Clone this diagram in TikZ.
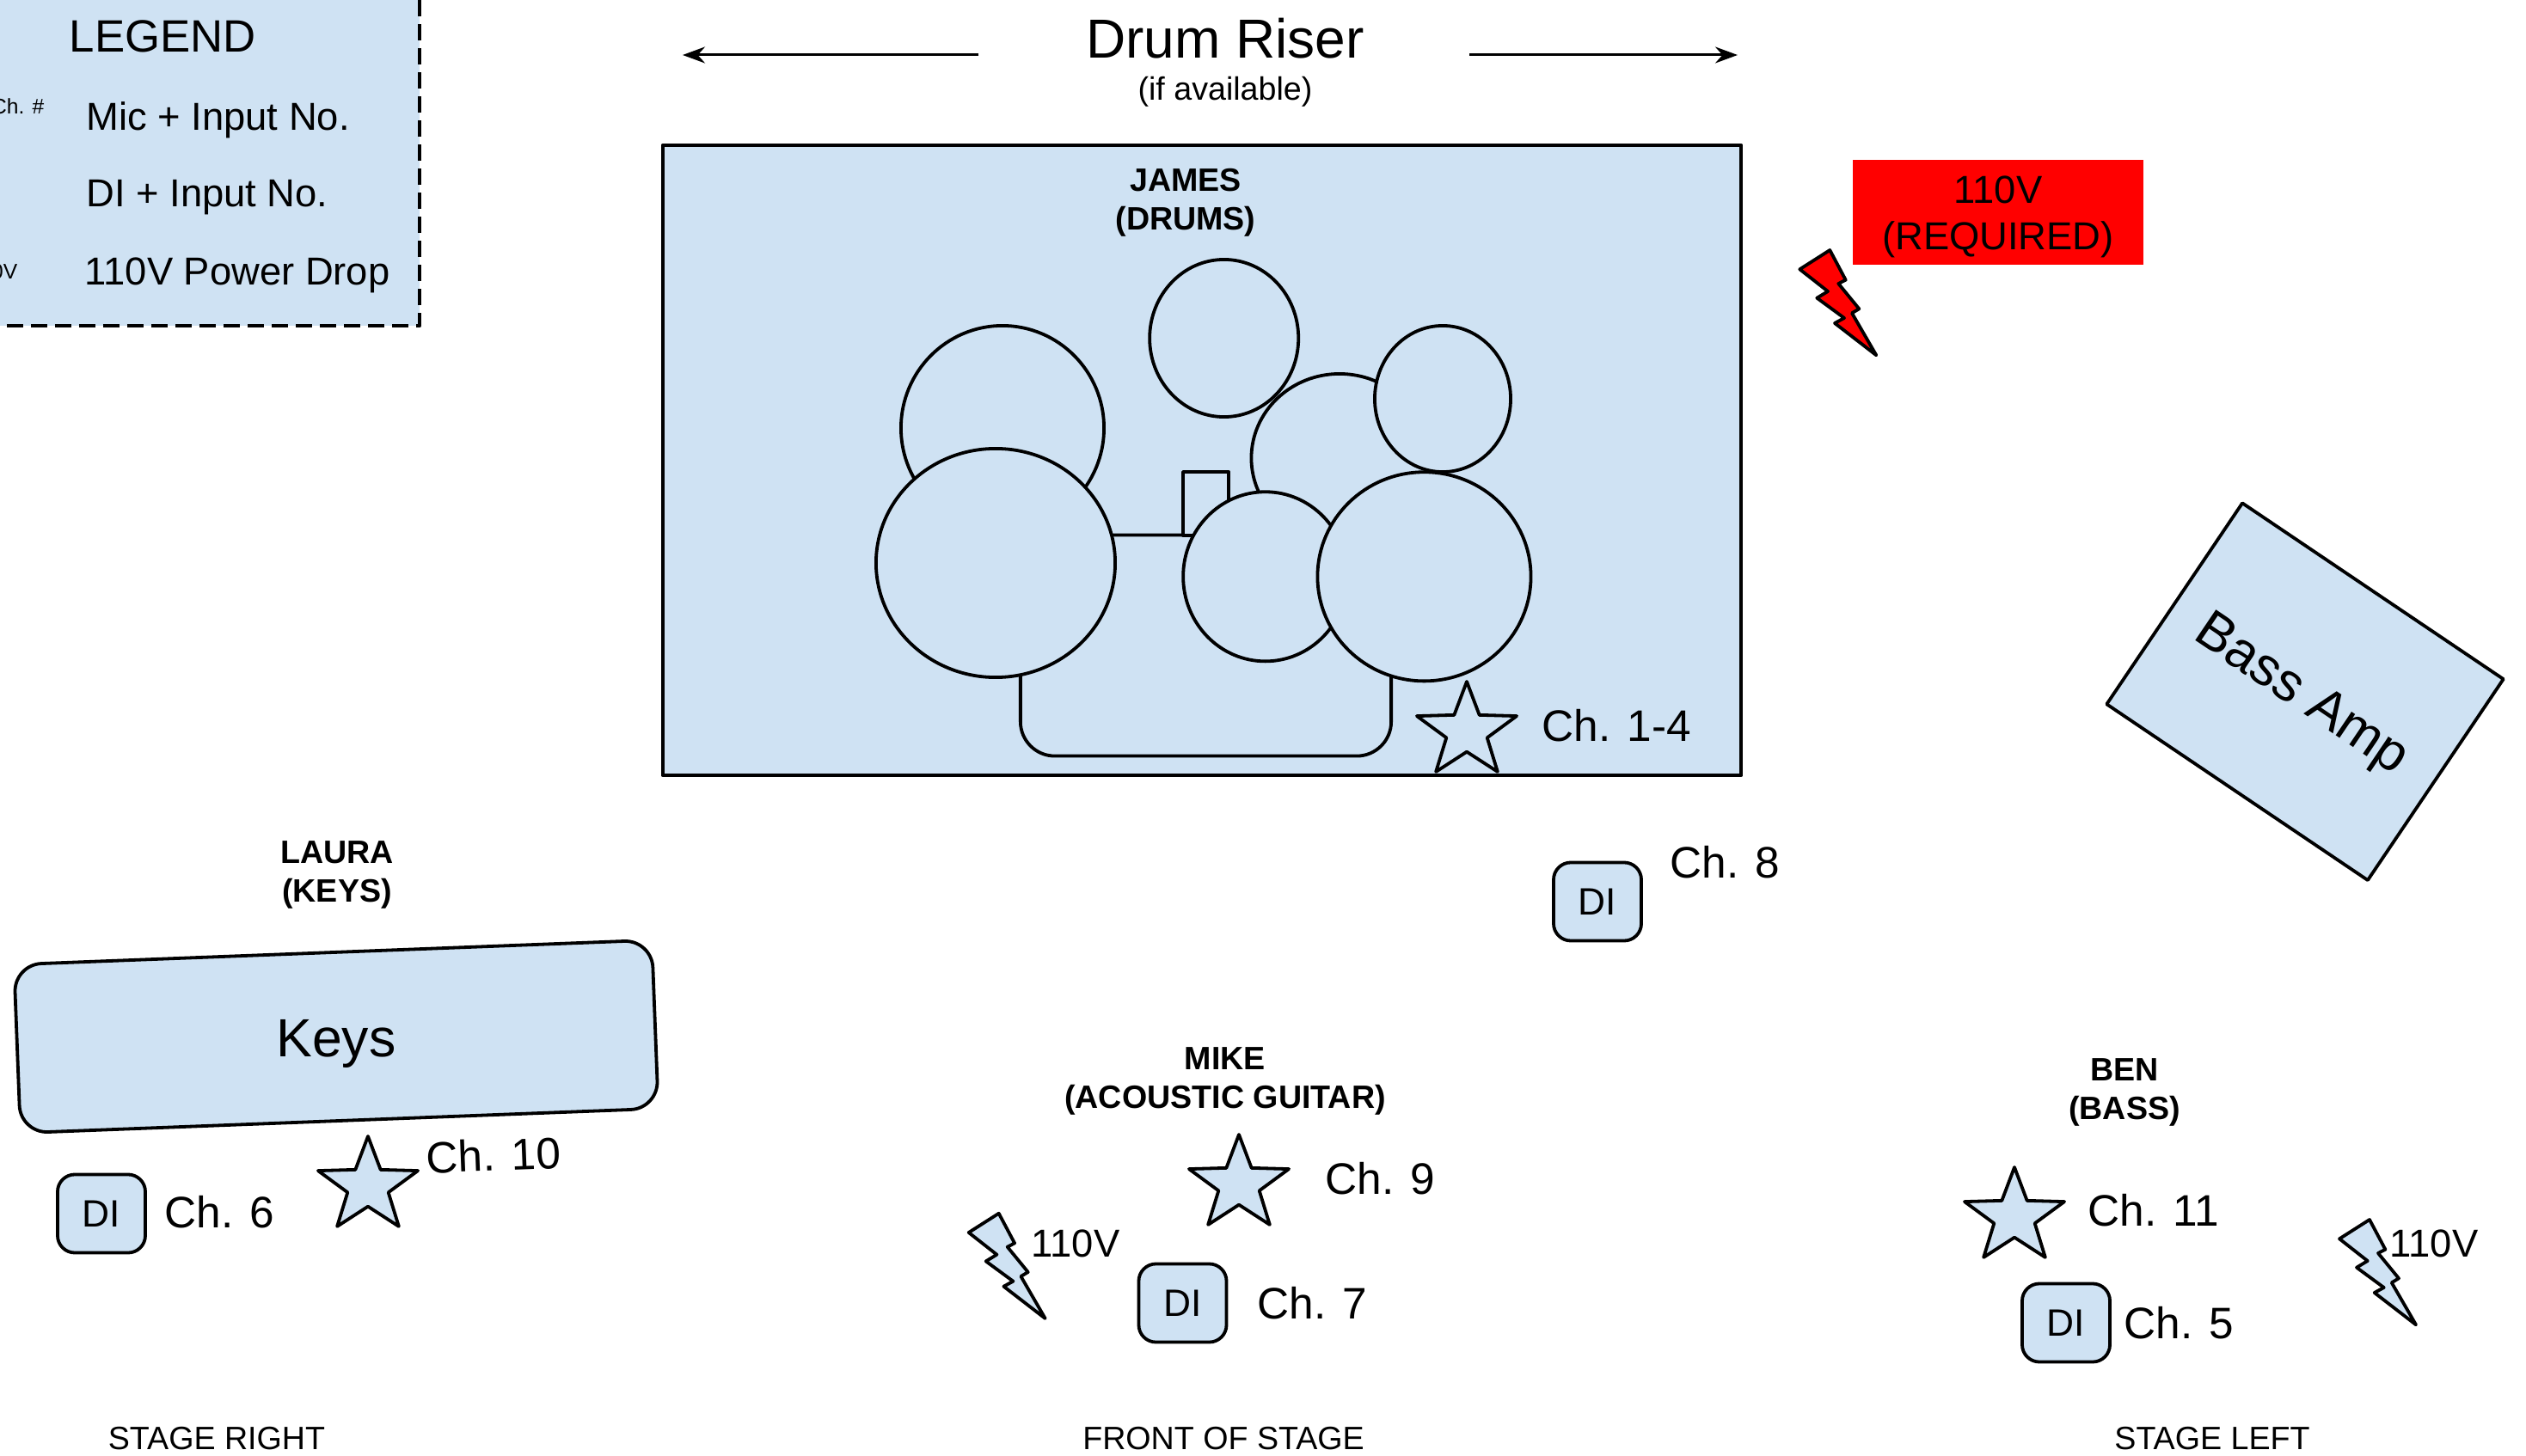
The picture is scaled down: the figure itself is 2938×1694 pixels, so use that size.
\documentclass[tikz,border=0pt]{standalone}
\usepackage{fontspec}
\setmainfont{Liberation Sans}
\usetikzlibrary{positioning,shapes.geometric,arrows.meta}
\definecolor{stageblue}{HTML}{CFE2F3}
\definecolor{dropred}{HTML}{FF0000}

\begin{document}
\begin{tikzpicture}[x=.01cm,y=-.01cm,
ln/.style={line width=.038cm,line join=round},
part/.style={draw,ln,fill=stageblue,inner sep=0pt},
drum/.style={part,ellipse},
mic/.style={part,star,star points=5,star point ratio=2.45,minimum size=1.22cm,transform shape,yscale=.95},
dibox/.style={part,rounded corners=.2cm,minimum width=1.02cm,minimum height=.91cm,font=\fontsize{12.6}{15}\selectfont},
chtext/.style={inner sep=0pt,font=\fontsize{14.6}{18}\selectfont},
plain/.style={inner sep=0pt,font=\fontsize{12.9}{15.3}\selectfont,align=center},
small/.style={inner sep=0pt,font=\fontsize{10.7}{12.7}\selectfont,align=center},
who/.style={small,font=\fontsize{10.7}{12.7}\selectfont\bfseries},
tiny/.style={inner sep=0pt,anchor=base east,font=\fontsize{7}{8}\selectfont},
big/.style={inner sep=0pt,font=\fontsize{17.8}{20}\selectfont},
bolt/.pic={\draw[ln,fill=#1] (0,0) -- (18.4,34.7) -- (10,39) -- (34,68.3) -- (25.7,73.3) -- (54,122.3)
    -- (5.7,85) -- (16.7,79) -- (-15,55.7) -- (-2.3,48) -- (-35,22.3) -- cycle;}]
\useasboundingbox (0,0) rectangle (2938,1694);
\clip (0,0) rectangle (2938,1694);

\node (legendbox) [part,dash pattern=on .187cm off .093cm,minimum width=5.08cm,minimum height=3.89cm] at (234,184.5) {};
\node (legendhead) [inner sep=0pt,font=\fontsize{15}{18}\selectfont,anchor=base west] at (80,61) {LEGEND};
\node (micnote) [tiny] at (52,133) {Ch. \#};
\node (voltnote) [tiny] at (21,325) {110V};
\node (miclegend) [plain,anchor=base west] at (99.7,152) {Mic + Input No.};
\node (dilegend) [plain,anchor=base west] at (99.7,240.7) {DI + Input No.};
\node (droplegend) [plain,anchor=base west] at (98,331.7) {110V Power Drop};

\node (riser) [inner sep=0pt,font=\fontsize{18.2}{20}\selectfont] at (1425,45) {Drum Riser};
\node (riservia) [small] at (1425,107) {(if available)};
\coordinate (lefttail) at (1138,64);
\coordinate (lefthead) at (794,64);
\coordinate (righttail) at (1709,64);
\coordinate (righthead) at (2021,64);
\draw[-{Stealth[length=.26cm,width=.19cm]},line width=.03cm] (lefttail) -- (lefthead);
\draw[-{Stealth[length=.26cm,width=.19cm]},line width=.03cm] (righttail) -- (righthead);

\node (jamesbox) [part,minimum width=12.54cm,minimum height=7.33cm] at (1398,535.5) {};
\node (james) [who] at (1379,236) {JAMES\\(DRUMS)};
\node (kick) [part,rounded corners=.4cm,minimum width=4.31cm,minimum height=2.57cm] at (1402.5,751) {};
\node (pedal) [part,minimum width=.53cm,minimum height=.74cm] at (1402.5,586) {};
\node (floorleft) [drum,minimum width=2.36cm,minimum height=2.38cm] at (1166,498) {};
\node (rackmid) [drum,minimum width=2.05cm,minimum height=1.96cm] at (1558,533) {};
\node (racktop) [drum,minimum width=1.73cm,minimum height=1.83cm] at (1423.7,393.5) {};
\node (rackright) [drum,minimum width=1.58cm,minimum height=1.70cm] at (1678,464) {};
\node (cymleft) [drum,minimum width=2.78cm,minimum height=2.66cm] at (1158,655) {};
\node (snare) [drum,minimum width=1.91cm,minimum height=1.97cm] at (1471.7,670.8) {};
\node (cymright) [drum,minimum width=2.48cm,minimum height=2.43cm] at (1656.5,670.8) {};
\node (mica) [mic] at (1706,851) {};
\node (cha) [chtext,right=.87cm of mica.center,yshift=.07cm] {Ch. 1-4};

\node (dropbox) [plain,fill=dropred,inner sep=0pt,minimum width=3.38cm,minimum height=1.22cm] at (2324,247) {};
\node (droptext) [plain] at (2324,252) {110V\\(REQUIRED)};
\pic at (2128.3,291) {bolt=dropred};

\node (ampbox) [part,rotate=-34,minimum width=3.66cm,minimum height=2.82cm] at (2681,804.7) {};
\node (amptext) [big,rotate=-34] at (2676,810) {Bass Amp};

\node (dieight) [dibox] at (1858,1049) {DI};
\node (cheight) [chtext,anchor=west] at (1942,1003) {Ch. 8};

\node (laura) [who] at (392,1018) {LAURA\\(KEYS)};
\node (keysbox) [part,rotate=2.2,rounded corners=.32cm,minimum width=7.42cm,minimum height=1.96cm] at (391,1206) {};
\node (keys) [big] at (391,1214) {Keys};
\node (disix) [dibox] at (118,1412) {DI};
\node (chsix) [chtext,right=.2cm of disix,yshift=.02cm] {Ch. 6};
\node (micten) [mic] at (428,1380) {};
\node (chten) [chtext,rotate=2.2] at (574,1344) {Ch. 10};

\node (mike) [who] at (1425,1258) {MIKE\\(ACOUSTIC GUITAR)};
\node (micnine) [mic] at (1441,1378) {};
\node (chnine) [chtext,right=1cm of micnine.center,yshift=.07cm] {Ch. 9};
\node (diseven) [dibox] at (1375.5,1516) {DI};
\node (chseven) [chtext,right=.335cm of diseven] {Ch. 7};
\pic at (1161.7,1411.7) {bolt=stageblue};
\node (voltmike) [plain,anchor=west] at (1199,1447) {110V};

\node (ben) [who] at (2471,1271) {BEN\\(BASS)};
\node (miceleven) [mic] at (2343,1416) {};
\node (cheleven) [chtext,right=.85cm of miceleven.center,yshift=.08cm] {Ch. 11};
\node (difive) [dibox] at (2403,1539) {DI};
\node (chfive) [chtext,right=.14cm of difive] {Ch. 5};
\pic at (2756,1419) {bolt=stageblue};
\node (voltben) [plain,anchor=west] at (2779,1447) {110V};

\node (stageright) [small] at (252,1674) {STAGE RIGHT};
\node (stagefront) [small] at (1423,1674) {FRONT OF STAGE};
\node (stageleft) [small] at (2573,1674) {STAGE LEFT};
\end{tikzpicture}
\end{document}
